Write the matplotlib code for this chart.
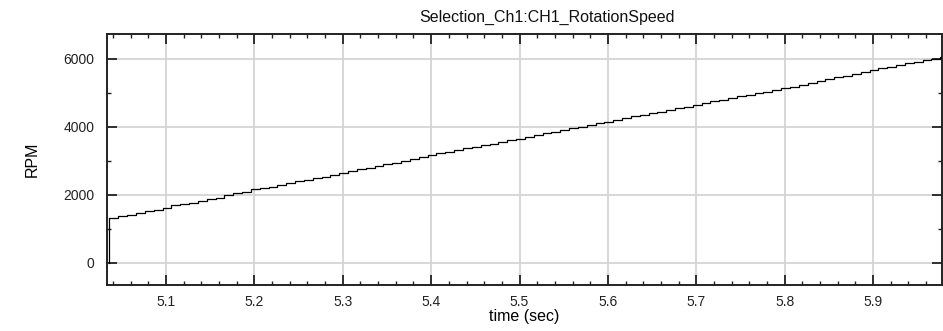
import numpy as np
import matplotlib
matplotlib.use("Agg")
import matplotlib.pyplot as plt
from matplotlib.ticker import MultipleLocator

# Rotation speed samples (RPM), one every 10 ms after the sensor locks on
t_start = 5.036
dt = 0.01
rpm = [1332, 1370, 1420, 1480, 1530, 1545, 1620, 1700, 1725, 1760,
       1830, 1890, 1920, 1990, 2050, 2100, 2170, 2210, 2240, 2300,
       2350, 2400, 2440, 2490, 2540, 2590, 2660, 2700, 2750, 2800,
       2850, 2900, 2950, 3000, 3060, 3110, 3180, 3220, 3270, 3320,
       3370, 3420, 3470, 3510, 3560, 3610, 3660, 3710, 3760, 3810,
       3860, 3910, 3960, 4010, 4060, 4110, 4160, 4210, 4260, 4310,
       4360, 4410, 4450, 4500, 4550, 4600, 4650, 4700, 4750, 4800,
       4850, 4900, 4940, 4990, 5040, 5090, 5140, 5190, 5240, 5300,
       5350, 5400, 5460, 5510, 5570, 5620, 5670, 5720, 5770, 5820,
       5870, 5910, 5960, 6010, 6060]

x_min, x_max = 5.0332, 5.978
y_min, y_max = -650, 6735

plt.rcParams['font.family'] = ['Liberation Sans', 'DejaVu Sans']

fig = plt.figure(figsize=(9.43, 3.31), dpi=100)
ax = fig.add_axes([107 / 943, 46 / 331, 835 / 943, 251 / 331])

# speed is zero until the first sample, then holds each reading
times = np.concatenate([[t_start], t_start + dt * np.arange(len(rpm)), [x_max]])
values = np.concatenate([[0], rpm, [rpm[-1]]])
ax.step(times, values, where='post', color='black', linewidth=0.9, zorder=3)

ax.set_xlim(x_min, x_max)
ax.set_ylim(y_min, y_max)
ax.xaxis.set_major_locator(MultipleLocator(0.1))
ax.xaxis.set_minor_locator(MultipleLocator(0.02))
ax.yaxis.set_major_locator(MultipleLocator(2000))
ax.yaxis.set_minor_locator(MultipleLocator(1000))
ax.xaxis.set_major_formatter(plt.FuncFormatter(lambda v, p: f"{v:.1f}"))

ax.grid(True, which='major', color='#d4d4d4', linewidth=1.3, zorder=0)
ax.tick_params(which='both', direction='in', top=True, right=True,
               colors='#222222', labelsize=10)
ax.tick_params(which='major', length=7, width=1.3)
ax.tick_params(which='minor', length=3, width=1.0)
ax.tick_params(axis='y', pad=9)
ax.tick_params(axis='x', pad=7)
for s in ax.spines.values():
    s.set_color('#222222')
    s.set_linewidth(1.4)

fig.text(547 / 943, 1 - 17 / 331, "Selection_Ch1:CH1_RotationSpeed",
         fontsize=11.5, ha='center', va='center', color='#111111')
ax.set_xlabel("time (sec)", fontsize=11.5, labelpad=0)
ax.set_ylabel("RPM", fontsize=11.5, labelpad=17)

fig.savefig("out.png", dpi=100)
